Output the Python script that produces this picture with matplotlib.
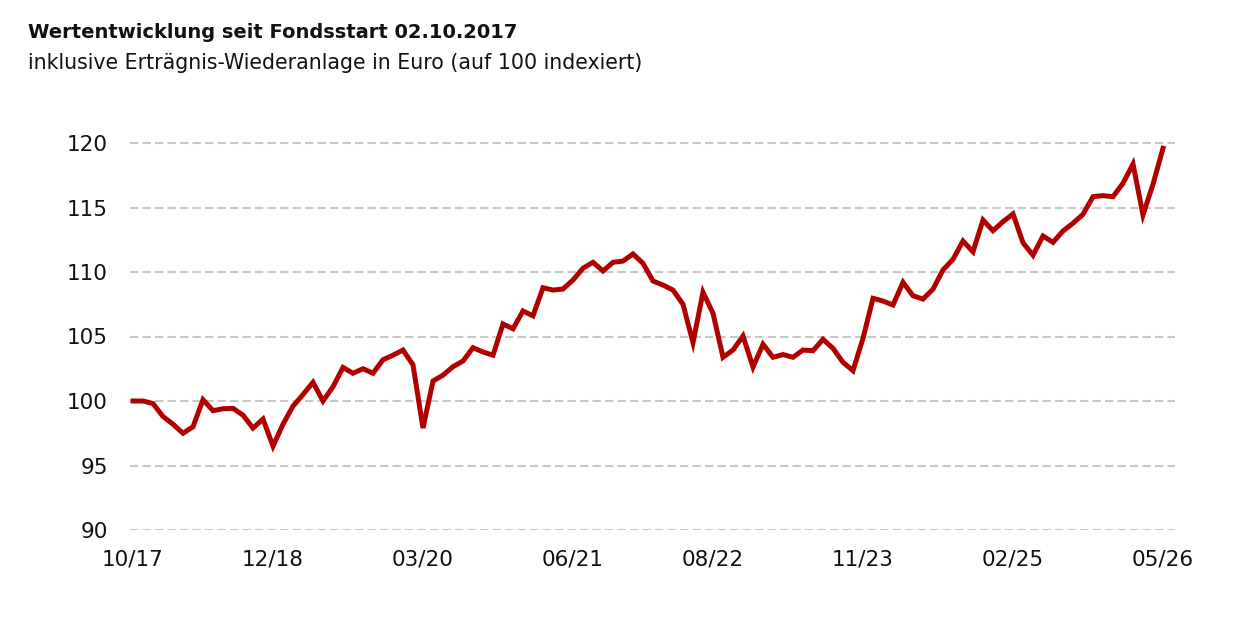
import matplotlib
matplotlib.use("Agg")
import matplotlib.pyplot as plt

# Monatswerte 10/2017 - 05/2026, auf 100 indexiert
werte = [
    100.0, 100.0, 99.8,
    98.8, 98.2, 97.5, 98.0, 100.1, 99.25, 99.4, 99.43, 98.9, 97.9, 98.6, 96.5,
    98.2, 99.6, 100.5, 101.45, 100.0, 101.1, 102.6, 102.15, 102.5, 102.15, 103.2, 103.55,
    103.95, 102.8, 97.9, 101.55, 102.0, 102.66, 103.1, 104.13, 103.8, 103.55, 105.97, 105.6,
    106.98, 106.6, 108.78, 108.6, 108.68, 109.38, 110.29, 110.75, 110.08, 110.75, 110.85, 111.4,
    110.67, 109.3, 108.99, 108.6, 107.5, 104.52, 108.43, 106.8, 103.39, 103.95, 105.04, 102.63,
    104.4, 103.39, 103.6, 103.39, 103.95, 103.9, 104.78, 104.08, 103.0, 102.35, 104.86, 107.96,
    107.75, 107.44, 109.2, 108.16, 107.9, 108.67, 110.16, 110.98, 112.4, 111.57, 114.03, 113.2,
    113.9, 114.5, 112.27, 111.3, 112.79, 112.3, 113.18, 113.78, 114.47, 115.84, 115.92, 115.84,
    116.88, 118.37, 114.42, 116.8, 119.59,
]
monate = list(range(len(werte)))

tick_pos = [0, 14, 29, 44, 58, 73, 88, 103]
tick_labels = ["10/17", "12/18", "03/20", "06/21", "08/22", "11/23", "02/25", "05/26"]
y_ticks = [90, 95, 100, 105, 110, 115, 120]

titel = "Wertentwicklung seit Fondsstart 02.10.2017"
untertitel = "inklusive Erträgnis-Wiederanlage in Euro (auf 100 indexiert)"

plt.rcParams["font.family"] = ["DejaVu Sans"]

fig = plt.figure(figsize=(12.46, 6.21), dpi=100)
ax = fig.add_axes([130 / 1246, 91 / 621, 1045 / 1246, 387 / 621])

for y in y_ticks:
    ax.axhline(y, color="#c8c8c8", lw=1.5, dashes=(4, 2), zorder=1,
               clip_on=(y == 90))

ax.plot(monate, werte, color="#b00000", lw=3.6, solid_joinstyle="miter", zorder=3)

ax.set_xlim(-0.3, 104.2)
ax.set_ylim(90, 120)
ax.set_xticks(tick_pos)
ax.set_xticklabels(tick_labels)
ax.set_yticks(y_ticks)
ax.tick_params(axis="both", length=0, labelsize=15.5, colors="#111111")
ax.tick_params(axis="x", pad=14)
ax.tick_params(axis="y", pad=16)
for s in ax.spines.values():
    s.set_visible(False)

fig.text(28 / 1246, 1 - 33 / 621, titel, fontsize=14, fontweight="bold",
         va="center", ha="left", color="#111111")
fig.text(28 / 1246, 1 - 63 / 621, untertitel, fontsize=14.8,
         va="center", ha="left", color="#111111")

fig.savefig("out.png", dpi=100)
